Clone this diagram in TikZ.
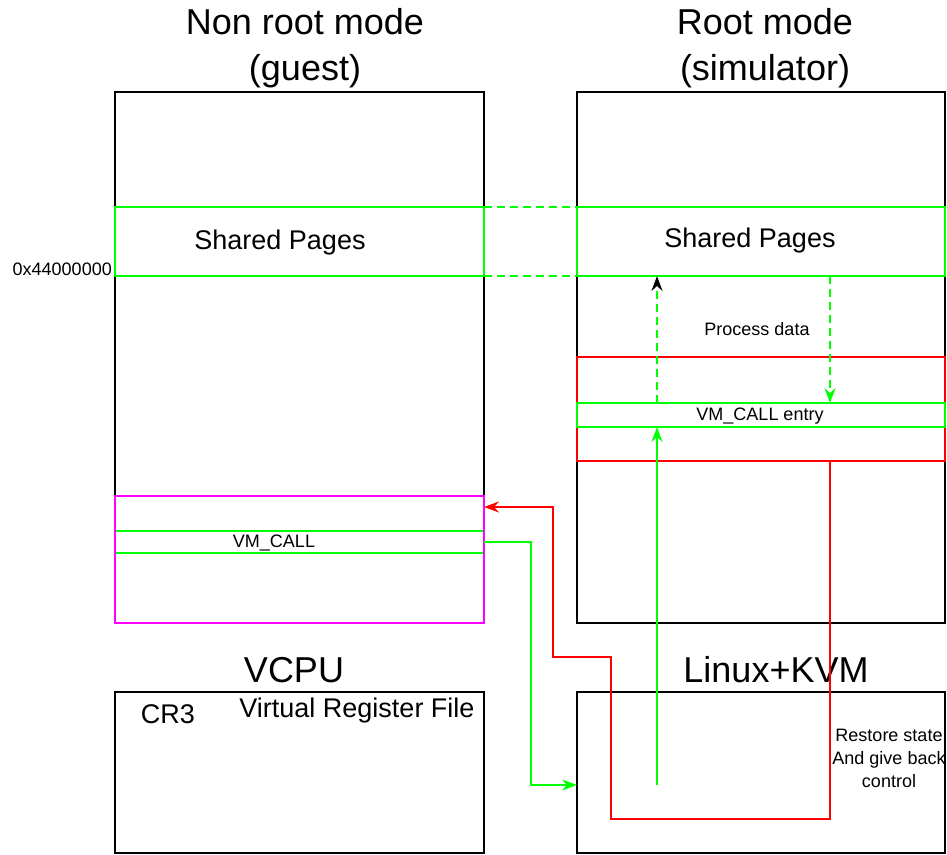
\documentclass[tikz,border=0pt]{standalone}
\usepackage{fontspec}
\setmainfont{Liberation Sans}
\usetikzlibrary{arrows.meta}
\definecolor{vgreen}{RGB}{0,255,0}
\definecolor{vred}{RGB}{255,0,0}
\definecolor{vmag}{RGB}{255,0,255}
\begin{document}
\begin{tikzpicture}[x=1pt,y=-1pt,
  boxbase/.style={inner sep=0pt,outer sep=0pt,anchor=north west,line width=1.6pt},
  blk/.style={boxbase,draw=black},
  gbox/.style={boxbase,draw=vgreen},
  rbox/.style={boxbase,draw=vred},
  mbox/.style={boxbase,draw=vmag,line width=2pt},
  bigtxt/.style={font=\fontsize{36}{46}\selectfont,align=center,inner sep=0pt},
  midtxt/.style={font=\fontsize{27}{32}\selectfont,inner sep=0pt},
  smltxt/.style={font=\fontsize{18}{23}\selectfont,align=center,inner sep=0pt},
  gline/.style={draw=vgreen,line width=1.6pt},
  rline/.style={draw=vred,line width=1.6pt},
  gdash/.style={gline,dash pattern=on 8pt off 5pt},
  tip/.style={-{Stealth[length=15pt,width=11pt,inset=5pt]}}
]
\useasboundingbox (0,0) rectangle (947,854);
% titles
\node[bigtxt] (gtitle) at (305,48) {Non root mode\\(guest)};
\node[bigtxt] (stitle) at (765,48) {Root mode\\(simulator)};
\node[bigtxt] (vtitle) at (294,670) {VCPU};
\node[bigtxt] (ktitle) at (776,670) {Linux+KVM};
% main boxes
\node[blk,minimum width=369pt,minimum height=531pt] (guest) at (115,92) {};
\node[blk,minimum width=368pt,minimum height=531pt] (sim) at (577,92) {};
\node[blk,minimum width=369pt,minimum height=161pt] (vcpu) at (115,692) {};
\node[blk,minimum width=368pt,minimum height=161pt] (kvm) at (577,692) {};
% shared pages
\node[gbox,minimum width=369pt,minimum height=69pt] (gsp) at (115,207) {};
\node[gbox,minimum width=368pt,minimum height=69pt] (ssp) at (577,207) {};
\node[midtxt] (gsptxt) at (280,243) {Shared Pages};
\node[midtxt] (ssptxt) at (750,241) {Shared Pages};
\node[smltxt,anchor=east] (addr) at (112,269) {0x44000000};
\draw[gdash] (gsp.north east) -- (ssp.north west);
\draw[gdash] (gsp.south east) -- (ssp.south west);
% red region and entry
\node[rbox,minimum width=368pt,minimum height=104pt] (redbox) at (577,357) {};
\node[gbox,minimum width=368pt,minimum height=24pt,line width=2pt] (entry) at (577,403) {};
\node[smltxt] (entrytxt) at (760,416) {VM\_CALL entry};
\node[smltxt] (proc) at (757,329) {Process data};
\coordinate (upx) at (657,0);
\coordinate (dnx) at (830,0);
\draw[gdash,-{Stealth[length=15pt,width=11pt,inset=5pt,black]}] (entry.north -| upx) -- (ssp.south -| upx);
\draw[gdash,tip] (ssp.south -| dnx) -- (entry.north -| dnx);
% guest vm_call area
\node[gbox,minimum width=369pt,minimum height=22pt] (vmcall) at (115,531) {};
\node[mbox,minimum width=369pt,minimum height=127pt] (mag) at (115,496) {};
\node[smltxt] (vmtxt) at (274,543) {VM\_CALL};
% vcpu texts
\node[midtxt] (cr3) at (168,714) {CR3};
\node[midtxt] (vrf) at (357,711) {Virtual Register File};
\node[smltxt] (restore) at (889,758) {Restore state\\And give back\\control};
% connectors
\coordinate (gA) at (531,542);
\coordinate (gB) at (531,785);
\draw[gline,tip] (vmcall.east) -- (gA) -- (gB) -- (kvm.west |- gB);
\coordinate (gC) at (657,785);
\draw[gline,tip] (gC) -- (entry.south -| gC);
\coordinate (r1) at (830,819);
\coordinate (r2) at (611,819);
\coordinate (r3) at (611,657);
\coordinate (r4) at (553,657);
\coordinate (r5) at (553,507);
\draw[rline,tip] (redbox.south -| r1) -- (r1) -- (r2) -- (r3) -- (r4) -- (r5) -- (mag.east |- r5);
\end{tikzpicture}
\end{document}
